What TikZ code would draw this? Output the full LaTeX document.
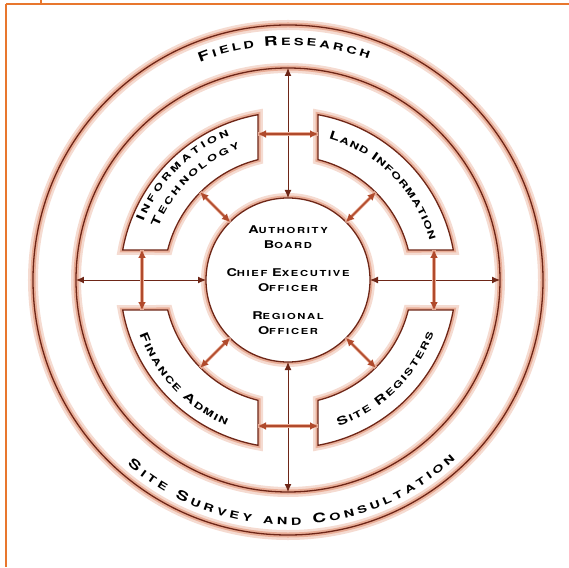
\documentclass[tikz,border=0pt]{standalone}
\usepackage{fontspec}
\newfontfamily\cpfont[FakeStretch=1.45]{TeX Gyre Heros}
\newfontfamily\hubfont[FakeStretch=1.35,LetterSpace=20]{TeX Gyre Heros}
\usetikzlibrary{positioning,arrows.meta,decorations.text}
\definecolor{edge}{HTML}{6E2617}
\definecolor{halo}{HTML}{E9AE98}
\definecolor{rust}{HTML}{B04A2C}
\definecolor{framec}{HTML}{E8772E}
\newcommand\capbig{\hubfont\bfseries\fontsize{10.7}{15}\selectfont}
\newcommand\capsmall{\hubfont\bfseries\fontsize{8.3}{15}\selectfont}
\newcommand\segbig{\cpfont\bfseries\fontsize{11.5}{15}\selectfont}
\newcommand\segsmall{\cpfont\bfseries\fontsize{9}{15}\selectfont}
\newcommand\ringbig{\cpfont\bfseries\fontsize{13}{15}\selectfont}
\newcommand\ringsmall{\cpfont\bfseries\fontsize{10}{15}\selectfont}
\newcommand\sccap[2]{{\capbig #1}{\capsmall #2}}

\begin{document}
\begin{tikzpicture}[x=1pt,y=1pt,
    ring/.style={circle,draw=edge,line width=1.3pt,inner sep=0pt,outer sep=0pt,
      preaction={draw=halo!45,line width=10pt},preaction={draw=halo,line width=5pt}},
    segment/.style={draw=edge,fill=white,line width=1.3pt,
      preaction={draw=halo!45,line width=10pt},preaction={draw=halo,line width=5pt}},
    link/.style={{Latex[length=8pt,width=7pt]}-{Latex[length=8pt,width=7pt]},draw=edge,line width=1pt},
    slink/.style={{Latex[length=8pt,width=8pt]}-{Latex[length=8pt,width=8pt]},draw=rust,line width=1.6pt,
      preaction={draw=halo,line width=3.5pt,-}},
    arctext/.style={decorate,decoration={text along path,text align=fit to path,text={#1}}},
    frame line/.style={draw=framec,line width=1.5pt}]

  \useasboundingbox (-288,-287) rectangle (281,280);
  \draw[frame line] (-282,276) -- (281,276);
  \draw[frame line] (-282,276) -- (-282,-287);
  \draw[frame line] (-247,280) -- (-247,276);

  \node[ring,minimum size=510pt] (outer) at (0,0) {};
  \node[ring,minimum size=424pt] (inner) at (0,0) {};

  \foreach \r in {0,90,180,270}
    \draw[segment,rotate=\r] (100.29:168) arc[start angle=100.29,end angle=169.71,radius=168]
      -- (166:124) arc[start angle=166,end angle=104,radius=124] -- cycle;

  \node[ring,fill=white,minimum size=160pt,align=center,font=\capsmall] (hub) at (0,0)
    {\sccap{A}{UTHORITY}\\ \sccap{B}{OARD}\\[13pt]
     \sccap{C}{HIEF} \sccap{E}{XECUTIVE}\\ \sccap{O}{FFICER}\\[13pt]
     \sccap{R}{EGIONAL}\\ \sccap{O}{FFICER}};

  \draw[link] (inner.north) -- (hub.north);
  \draw[link] (inner.south) -- (hub.south);
  \draw[link] (inner.west) -- (hub.west);
  \draw[link] (inner.east) -- (hub.east);

  \coordinate (itr) at (-30,146);
  \coordinate (lil) at (30,146);
  \coordinate (fab) at (-30,-146);
  \coordinate (srb) at (30,-146);
  \coordinate (itb) at (-146,30);
  \coordinate (fat) at (-146,-30);
  \coordinate (lib) at (146,30);
  \coordinate (srt) at (146,-30);
  \draw[slink] (itr) -- (lil);
  \draw[slink] (fab) -- (srb);
  \draw[slink] (itb) -- (fat);
  \draw[slink] (lib) -- (srt);

  \foreach \a in {45,135,225,315} {
    \coordinate (d\a) at (\a:124);
    \draw[slink] (d\a) -- (hub.\a);
  }

  \path[arctext={|\ringbig|F|\ringsmall|IELD |\ringbig|R|\ringsmall|ESEARCH}]
    (112:235) arc[start angle=112,end angle=70,radius=235];
  \path[arctext={|\ringbig|S|\ringsmall|ITE |\ringbig|S|\ringsmall|URVEY AND |\ringbig|C|\ringsmall|ONSULTATION}]
    (229:245) arc[start angle=229,end angle=313,radius=245];
  \path[arctext={|\segbig|I|\segsmall|NFORMATION}]
    (158:156) arc[start angle=158,end angle=112,radius=156];
  \path[arctext={|\segbig|T|\segsmall|ECHNOLOGY}]
    (158:140) arc[start angle=158,end angle=110,radius=140];
  \path[arctext={|\segbig|L|\segsmall|AND |\segbig|I|\segsmall|NFORMATION}]
    (74:147) arc[start angle=74,end angle=15.5,radius=147];
  \path[arctext={|\segbig|F|\segsmall|INANCE |\segbig|A|\segsmall|DMIN}]
    (200:158) arc[start angle=200,end angle=247,radius=158];
  \path[arctext={|\segbig|S|\segsmall|ITE |\segbig|R|\segsmall|EGISTERS}]
    (289:155) arc[start angle=289,end angle=340,radius=155];
\end{tikzpicture}
\end{document}
